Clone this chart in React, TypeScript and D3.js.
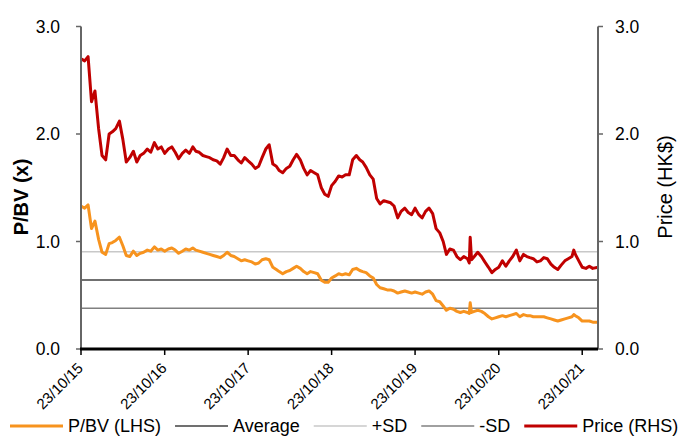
import React from "react";
import * as d3 from "d3";

const dates: string[] = [
  "2015-10-23","2015-11-08","2015-11-23","2015-12-08","2015-12-23","2016-01-08","2016-01-23","2016-02-08","2016-02-23","2016-03-08",
  "2016-03-23","2016-04-08","2016-04-23","2016-05-08","2016-05-23","2016-06-08","2016-06-23","2016-07-08","2016-07-23","2016-08-08",
  "2016-08-23","2016-09-08","2016-09-23","2016-10-08","2016-10-23","2016-11-08","2016-11-23","2016-12-08","2016-12-23","2017-01-08",
  "2017-01-23","2017-02-08","2017-02-23","2017-03-08","2017-03-23","2017-04-08","2017-04-23","2017-05-08","2017-05-23","2017-06-08",
  "2017-06-23","2017-07-08","2017-07-23","2017-08-08","2017-08-23","2017-09-08","2017-09-23","2017-10-08","2017-10-23","2017-11-08",
  "2017-11-23","2017-12-08","2017-12-23","2018-01-08","2018-01-23","2018-02-08","2018-02-23","2018-03-08","2018-03-23","2018-04-08",
  "2018-04-23","2018-05-08","2018-05-23","2018-06-08","2018-06-23","2018-07-08","2018-07-23","2018-08-08","2018-08-23","2018-09-08",
  "2018-09-23","2018-10-08","2018-10-23","2018-11-08","2018-11-23","2018-12-08","2018-12-23","2019-01-08","2019-01-23","2019-02-08",
  "2019-02-23","2019-03-08","2019-03-23","2019-04-08","2019-04-23","2019-05-08","2019-05-23","2019-06-08","2019-06-23","2019-07-08",
  "2019-07-23","2019-08-08","2019-08-23","2019-09-08","2019-09-23","2019-10-08","2019-10-23","2019-11-08","2019-11-23","2019-12-08",
  "2019-12-23","2020-01-08","2020-01-23","2020-02-08","2020-02-23","2020-03-08","2020-03-23","2020-04-08","2020-04-23","2020-05-08",
  "2020-05-23","2020-06-08","2020-06-16","2020-06-20","2020-06-26","2020-07-08","2020-07-23","2020-08-08","2020-08-23","2020-09-08",
  "2020-09-23","2020-10-08","2020-10-23","2020-11-08","2020-11-23","2020-12-08","2020-12-23","2021-01-08","2021-01-23","2021-02-08",
  "2021-02-23","2021-03-08","2021-03-23","2021-04-08","2021-04-23","2021-05-08","2021-05-23","2021-06-08","2021-06-23","2021-07-08",
  "2021-07-23","2021-08-08","2021-08-23","2021-09-08","2021-09-16","2021-09-23","2021-10-08","2021-10-23","2021-11-08","2021-11-23",
  "2021-12-08","2021-12-31"
];

const pbv: number[] = [
  1.33,1.31,1.34,1.12,1.19,1.02,0.90,0.88,0.98,0.99,
  1.01,1.04,0.96,0.87,0.86,0.91,0.87,0.89,0.90,0.92,
  0.91,0.95,0.92,0.93,0.91,0.93,0.94,0.92,0.89,0.91,
  0.93,0.92,0.94,0.92,0.91,0.90,0.89,0.88,0.87,0.86,
  0.85,0.87,0.90,0.87,0.86,0.84,0.82,0.83,0.82,0.81,
  0.79,0.80,0.83,0.84,0.83,0.76,0.74,0.72,0.70,0.72,
  0.73,0.75,0.77,0.75,0.72,0.70,0.72,0.71,0.70,0.64,
  0.62,0.62,0.66,0.68,0.70,0.69,0.70,0.69,0.74,0.75,
  0.73,0.72,0.71,0.68,0.66,0.60,0.57,0.56,0.55,0.55,
  0.54,0.52,0.53,0.54,0.53,0.52,0.53,0.52,0.51,0.53,
  0.54,0.51,0.45,0.44,0.40,0.36,0.38,0.37,0.35,0.34,
  0.35,0.34,0.33,0.43,0.34,0.35,0.36,0.35,0.33,0.30,
  0.28,0.29,0.30,0.31,0.30,0.31,0.32,0.33,0.30,0.32,
  0.31,0.31,0.30,0.30,0.30,0.30,0.29,0.28,0.27,0.26,
  0.27,0.28,0.29,0.30,0.32,0.31,0.29,0.26,0.26,0.26,
  0.25,0.25
];

const price: number[] = [
  2.70,2.68,2.72,2.30,2.40,2.05,1.80,1.76,2.00,2.02,
  2.05,2.12,1.95,1.74,1.78,1.84,1.74,1.80,1.82,1.86,
  1.83,1.92,1.86,1.88,1.82,1.86,1.88,1.83,1.77,1.82,
  1.85,1.82,1.88,1.84,1.83,1.80,1.79,1.78,1.76,1.75,
  1.72,1.78,1.86,1.80,1.80,1.76,1.73,1.78,1.75,1.72,
  1.68,1.70,1.78,1.86,1.90,1.72,1.70,1.66,1.64,1.68,
  1.70,1.76,1.81,1.76,1.68,1.62,1.66,1.64,1.62,1.50,
  1.44,1.42,1.52,1.56,1.61,1.60,1.62,1.62,1.76,1.80,
  1.76,1.74,1.69,1.62,1.58,1.40,1.35,1.38,1.37,1.36,
  1.33,1.22,1.28,1.31,1.27,1.25,1.31,1.25,1.22,1.28,
  1.31,1.26,1.12,1.08,1.00,0.88,0.93,0.92,0.86,0.83,
  0.86,0.84,0.80,1.04,0.83,0.86,0.90,0.86,0.81,0.76,
  0.71,0.74,0.76,0.82,0.77,0.82,0.86,0.92,0.82,0.88,
  0.86,0.85,0.84,0.81,0.82,0.85,0.84,0.79,0.76,0.74,
  0.78,0.82,0.84,0.86,0.92,0.88,0.82,0.76,0.75,0.77,
  0.75,0.76
];

const statLabels = ["Average", "+SD", "-SD"];
const statValues = [0.642, 0.905, 0.379];
const yTicks = [0, 1, 2, 3];
const xTickDates = ["2015-10-23","2016-10-23","2017-10-23","2018-10-23","2019-10-23","2020-10-23","2021-10-23"];
const legendLabels = ["P/BV (LHS)", "Average", "+SD", "-SD", "Price (RHS)"];

const FONT = "'Liberation Sans', Arial, Helvetica, sans-serif";
const ORANGE = "#F7931E";
const RED = "#C00000";
const statColors = ["#404040", "#C8C8C8", "#808080"];
const legendColors = [ORANGE, statColors[0], statColors[1], statColors[2], RED];

export default function App() {
  const W = 695, H = 443;
  const left = 81, right = 598, top = 26.5, bottom = 349;
  const parse = d3.utcParse("%Y-%m-%d");
  const x = d3.scaleUtc().domain([parse("2015-10-23")!, parse("2021-12-31")!]).range([left, right]);
  const y = d3.scaleLinear().domain([0, 3]).range([bottom, top]);
  const yR = d3.scaleLinear().domain([0, 3]).range([bottom, top]);
  const fmtX = d3.utcFormat("%d/%m/%y");

  const rows = dates.map((d, i) => ({ date: parse(d)!, pbv: pbv[i], price: price[i] }));
  const linePbv = d3.line<any>().x(d => x(d.date)).y(d => y(d.pbv))(rows) || "";
  const linePrice = d3.line<any>().x(d => x(d.date)).y(d => yR(d.price))(rows) || "";

  // legend layout
  const fs = 18;
  const ctx = typeof document !== "undefined" ? document.createElement("canvas").getContext("2d") : null;
  if (ctx) ctx.font = `${fs}px ${FONT}`;
  const widths = legendLabels.map(l => (ctx ? ctx.measureText(l).width : l.length * 9));
  const lineLen = 53, gapLT = 5, gapItem = 14;
  let cx = 10;
  const legendItems = legendLabels.map((l, i) => {
    const item = { label: l, color: legendColors[i], x: cx, w: widths[i] };
    cx += lineLen + gapLT + widths[i] + gapItem;
    return item;
  });
  const ly = 426;

  return (
    <svg width={W} height={H} style={{ position: "absolute", left: 0, top: 0, background: "#fff" }} fontFamily={FONT}>
      <rect x={0} y={0} width={W} height={H} fill="#fff" />
      {statValues.map((v, i) => (
        <line key={statLabels[i]} x1={left} x2={right} y1={y(v)} y2={y(v)} stroke={statColors[i]} strokeWidth={1.4} />
      ))}
      <path d={linePbv} fill="none" stroke={ORANGE} strokeWidth={3} strokeLinejoin="round" />
      <path d={linePrice} fill="none" stroke={RED} strokeWidth={3} strokeLinejoin="round" />

      {/* left axis */}
      <line x1={left} x2={left} y1={top} y2={bottom} stroke="#666" strokeWidth={2} />
      {yTicks.map(t => (
        <g key={"l" + t}>
          <line x1={left - 5} x2={left} y1={y(t)} y2={y(t)} stroke="#666" strokeWidth={1.5} />
          <text x={60} y={y(t)} dy="0.35em" textAnchor="end" fontSize={17.5} fill="#000">{t.toFixed(1)}</text>
        </g>
      ))}
      {/* right axis */}
      <line x1={right} x2={right} y1={top} y2={bottom} stroke="#666" strokeWidth={2} />
      {yTicks.map(t => (
        <g key={"r" + t}>
          <line x1={right} x2={right + 5} y1={yR(t)} y2={yR(t)} stroke="#666" strokeWidth={1.5} />
          <text x={615} y={yR(t)} dy="0.35em" textAnchor="start" fontSize={17.5} fill="#000">{t.toFixed(1)}</text>
        </g>
      ))}
      {/* x axis */}
      <line x1={left - 1} x2={right} y1={bottom} y2={bottom} stroke="#000" strokeWidth={3} />
      {xTickDates.map(d => {
        const tx = x(parse(d)!);
        return (
          <g key={d}>
            <line x1={tx} x2={tx} y1={bottom} y2={bottom + 6} stroke="#000" strokeWidth={1.5} />
            <text transform={`translate(${tx + 3},${369}) rotate(-45)`} textAnchor="end" fontSize={15} fill="#000">{fmtX(parse(d)!)}</text>
          </g>
        );
      })}

      {/* axis titles */}
      <text transform={`translate(28,197) rotate(-90)`} textAnchor="middle" fontSize={20} fontWeight="bold" fill="#000">P/BV (x)</text>
      <text transform={`translate(672,187) rotate(-90)`} textAnchor="middle" fontSize={20} fill="#000">Price (HK$)</text>

      {/* legend */}
      {legendItems.map(it => (
        <g key={it.label}>
          <line x1={it.x} x2={it.x + lineLen} y1={ly} y2={ly} stroke={it.color} strokeWidth={it.label.includes("RHS") || it.label.includes("LHS") ? 3 : 1.4} />
          <text x={it.x + lineLen + gapLT} y={ly} dy="0.35em" fontSize={fs} fill="#000">{it.label}</text>
        </g>
      ))}
    </svg>
  );
}
